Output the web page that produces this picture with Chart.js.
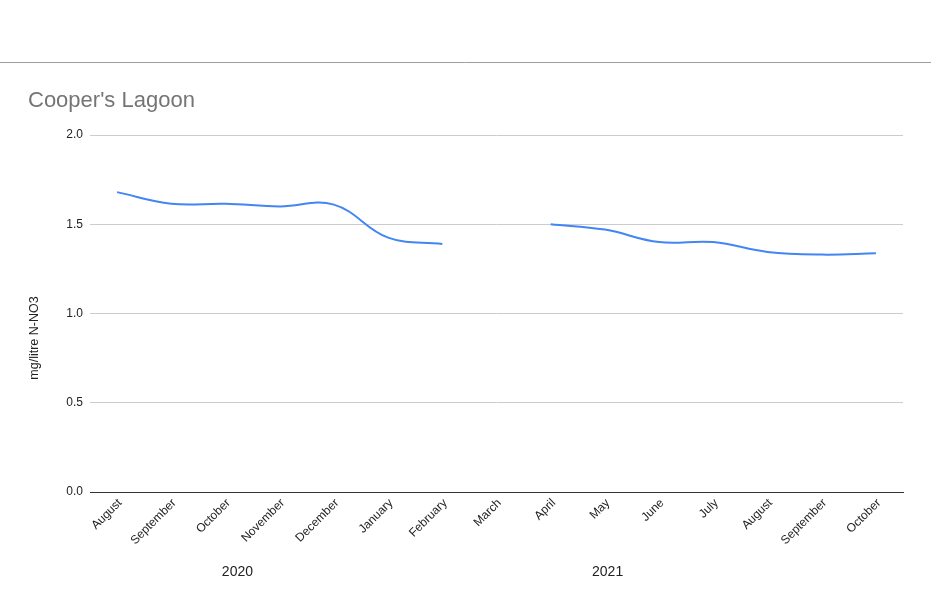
<!DOCTYPE html>
<html>
<head>
<meta charset="utf-8">
<script src="https://cdn.jsdelivr.net/npm/chart.js@4"></script>
<style>
  html, body { margin: 0; padding: 0; background: #fff; }
  #wrap { width: 931px; height: 600px; position: relative; }
</style>
</head>
<body>
<div id="wrap"><canvas id="c" width="931" height="600"></canvas></div>
<script>
const chartTitle = "Cooper's Lagoon";
const yAxisTitle = "mg/litre N-NO3";
const months = ["August", "September", "October", "November", "December", "January", "February", "March", "April", "May", "June", "July", "August", "September", "October"];
const nitrate = [1.68, 1.615, 1.615, 1.60, 1.61, 1.425, 1.39, null, 1.50, 1.47, 1.40, 1.40, 1.345, 1.33, 1.337];
const yearLabels = ["2020", "2021"];
const yearIndexPos = [2.22, 9.05];
const yTicks = [0, 0.5, 1.0, 1.5, 2.0];

const decorPlugin = {
  id: 'decor',
  beforeDraw(chart) {
    const ctx = chart.ctx;
    ctx.save();
    ctx.strokeStyle = '#9e9e9e';
    ctx.lineWidth = 1;
    ctx.beginPath();
    ctx.moveTo(0, 62.5);
    ctx.lineTo(chart.width, 62.5);
    ctx.stroke();
    ctx.fillStyle = '#757575';
    ctx.font = '22px "Liberation Sans", Arial, sans-serif';
    ctx.textBaseline = 'middle';
    ctx.textAlign = 'left';
    ctx.fillText(chartTitle, 28, 101);
    ctx.fillStyle = '#222';
    ctx.font = '12.5px "Liberation Sans", Arial, sans-serif';
    ctx.translate(35, 338);
    ctx.rotate(-Math.PI / 2);
    ctx.textAlign = 'center';
    ctx.fillText(yAxisTitle, 0, 0);
    ctx.restore();
  },
  afterDraw(chart) {
    const ctx = chart.ctx;
    const xs = chart.scales.x;
    ctx.save();
    ctx.fillStyle = '#222';
    ctx.font = '14px "Liberation Sans", Arial, sans-serif';
    ctx.textAlign = 'center';
    ctx.textBaseline = 'middle';
    yearLabels.forEach((t, i) => {
      const x = xs.getPixelForValue(0) + (xs.getPixelForValue(1) - xs.getPixelForValue(0)) * yearIndexPos[i];
      ctx.fillText(t, x, 572);
    });
    ctx.restore();
  }
};

new Chart(document.getElementById('c'), {
  type: 'line',
  data: {
    labels: months,
    datasets: [{
      data: nitrate,
      borderColor: '#4285f4',
      backgroundColor: '#4285f4',
      borderWidth: 2,
      pointRadius: 0,
      tension: 0.4,
      spanGaps: false,
      fill: false
    }]
  },
  options: {
    responsive: false,
    animation: false,
    devicePixelRatio: 1,
    layout: { padding: { top: 135, right: 28, left: 0, bottom: 0 } },
    plugins: { legend: { display: false }, tooltip: { enabled: false }, title: { display: false } },
    scales: {
      x: {
        offset: true,
        grid: { display: false, drawTicks: false },
        border: { display: true, color: '#333', width: 1 },
        ticks: {
          autoSkip: false, minRotation: 45, maxRotation: 45,
          color: '#222', padding: 4, labelOffset: 3,
          font: { family: '"Liberation Sans", Arial, sans-serif', size: 12 }
        },
        afterFit(s) { s.height = 108; }
      },
      y: {
        min: 0, max: 2,
        afterBuildTicks(s) { s.ticks = yTicks.map(v => ({ value: v })); },
        grid: { color: '#cccccc', drawTicks: false },
        border: { display: false },
        ticks: {
          color: '#222', padding: 7,
          font: { family: '"Liberation Sans", Arial, sans-serif', size: 12 },
          callback: v => Number(v).toFixed(1)
        },
        afterFit(s) { s.width = 90; }
      }
    }
  },
  plugins: [decorPlugin]
});
</script>
</body>
</html>
